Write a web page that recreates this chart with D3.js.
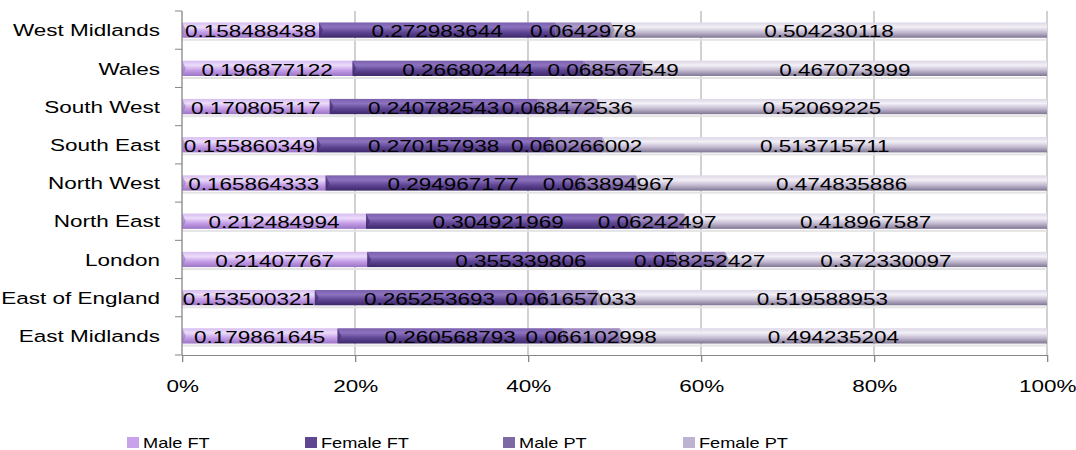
<!DOCTYPE html>
<html>
<head>
    <title>Employment split by region</title>
    <script src="https://d3js.org/d3.v7.min.js"></script>
    <style>
        body {
            margin: 0;
            background: #fff;
        }
        svg {
            display: block;
            font-family: "Liberation Sans", Arial, sans-serif;
        }
    </style>
</head>
<body>
    <svg id="chart"></svg>

    <script>
        // categories, top to bottom as drawn
        const regions = ["West Midlands", "Wales", "South West", "South East", "North West",
                         "North East", "London", "East of England", "East Midlands"];
        const seriesNames = ["Male FT", "Female FT", "Male PT", "Female PT"];

        const maleFT   = [0.158488438, 0.196877122, 0.170805117, 0.155860349, 0.165864333,
                          0.212484994, 0.21407767, 0.153500321, 0.179861645];
        const femaleFT = [0.272983644, 0.266802444, 0.240782543, 0.270157938, 0.294967177,
                          0.304921969, 0.355339806, 0.265253693, 0.260568793];
        const malePT   = [0.0642978, 0.068567549, 0.068472536, 0.060266002, 0.063894967,
                          0.06242497, 0.058252427, 0.061657033, 0.066102998];
        const femalePT = [0.504230118, 0.467073999, 0.52069225, 0.513715711, 0.474835886,
                          0.418967587, 0.372330097, 0.519588953, 0.494235204];

        const xTicks = [0, 0.2, 0.4, 0.6, 0.8, 1];

        // original picture is stretched sideways, so draw in a narrower box and stretch it
        const W = 1076, H = 450, SX = 1.30;
        const VBW = W / SX;
        const FS = 17.3;

        // gradient stops per series: top -> highlight -> base -> dark bottom
        const shades = [
            ["#d6bdf0", "#ecdcfa", "#c39be6", "#9a74c4"],
            ["#7a60ad", "#8c72bf", "#5d4492", "#3d286a"],
            ["#9985bd", "#ae9ccd", "#7f68a8", "#594680"],
            ["#dcd6e6", "#f3f0f7", "#c2b9d0", "#7f7592"]
        ];
        const swatch = ["#c8a2ea", "#5e4690", "#7d69a3", "#bdb2cf"];

        const svg = d3.select("#chart")
            .attr("width", W)
            .attr("height", H)
            .attr("viewBox", `0 0 ${VBW} ${H}`)
            .attr("preserveAspectRatio", "none");

        const margin = { top: 11, left: 182 / SX, right: VBW - 1047 / SX, bottom: H - 355 };
        const plotW = VBW - margin.left - margin.right;
        const plotH = H - margin.top - margin.bottom;

        const rows = regions.map((r, i) => {
            const vals = [maleFT[i], femaleFT[i], malePT[i], femalePT[i]];
            const total = d3.sum(vals);
            let acc = 0;
            return {
                region: r,
                segs: vals.map((v, k) => {
                    const s = { k, v, x0: acc / total, x1: (acc + v) / total };
                    acc += v;
                    return s;
                })
            };
        });

        const x = d3.scaleLinear().domain([0, 1]).range([0, plotW]);
        const y = d3.scaleBand().domain(regions).range([0, plotH]).padding(0);
        const barH = y.bandwidth() * 0.40;

        const defs = svg.append("defs");
        shades.forEach((c, k) => {
            const g = defs.append("linearGradient")
                .attr("id", "grad" + k)
                .attr("x1", 0).attr("y1", 0).attr("x2", 0).attr("y2", 1);
            [0, 0.3, 0.65, 1].forEach((o, j) => {
                g.append("stop").attr("offset", o).attr("stop-color", c[j]);
            });
        });

        const chart = svg.append("g")
            .attr("transform", `translate(${margin.left},${margin.top})`);

        // vertical gridlines
        chart.selectAll(".grid")
            .data(xTicks.slice(1))
            .enter()
            .append("line")
            .attr("x1", d => x(d)).attr("x2", d => x(d))
            .attr("y1", 0).attr("y2", plotH)
            .attr("stroke", "#a6a6a6")
            .attr("stroke-width", 0.8);

        // bars
        const rowG = chart.selectAll(".row")
            .data(rows)
            .enter()
            .append("g")
            .attr("transform", d => `translate(0,${y(d.region) + (y.bandwidth() - barH) / 2})`);

        rowG.append("rect")
            .attr("x", 0)
            .attr("y", barH + 1)
            .attr("width", x(1))
            .attr("height", 2)
            .attr("fill", "#e4e4e4");

        rowG.selectAll(".seg")
            .data(d => d.segs)
            .enter()
            .append("rect")
            .attr("x", d => x(d.x0))
            .attr("width", d => x(d.x1) - x(d.x0))
            .attr("y", 0)
            .attr("height", barH)
            .attr("fill", d => `url(#grad${d.k})`);

        // bevel at the left end of each segment
        rowG.selectAll(".bevel")
            .data(d => d.segs)
            .enter()
            .append("path")
            .attr("d", d => {
                const x0 = x(d.x0);
                return `M${x0},0 L${x0 + 3},${barH / 2} L${x0},${barH} Z`;
            })
            .attr("fill", d => shades[d.k][3])
            .attr("opacity", 0.6);

        rowG.selectAll(".lbl")
            .data(d => d.segs)
            .enter()
            .append("text")
            .attr("x", d => (x(d.x0) + x(d.x1)) / 2)
            .attr("y", barH / 2 + 1)
            .attr("dy", "0.36em")
            .attr("text-anchor", "middle")
            .attr("font-size", FS)
            .attr("fill", "#000")
            .text(d => d.v);

        // y axis
        chart.append("line")
            .attr("x1", 0).attr("x2", 0)
            .attr("y1", 0).attr("y2", plotH)
            .attr("stroke", "#868686");

        const bounds = regions.map(r => y(r)).concat([plotH]);
        chart.selectAll(".ytick")
            .data(bounds)
            .enter()
            .append("line")
            .attr("x1", -7 / SX).attr("x2", 0)
            .attr("y1", d => d).attr("y2", d => d)
            .attr("stroke", "#868686");

        chart.selectAll(".cat")
            .data(regions)
            .enter()
            .append("text")
            .attr("x", -22 / SX)
            .attr("y", d => y(d) + y.bandwidth() / 2)
            .attr("dy", "0.36em")
            .attr("text-anchor", "end")
            .attr("font-size", FS)
            .attr("fill", "#000")
            .text(d => d);

        // x axis
        const xAxis = chart.append("g")
            .attr("transform", `translate(0,${plotH})`)
            .call(d3.axisBottom(x)
                .tickValues(xTicks)
                .tickFormat(d3.format(".0%"))
                .tickSize(7)
                .tickSizeOuter(0)
                .tickPadding(18));
        xAxis.select(".domain").attr("stroke", "#868686");
        xAxis.selectAll(".tick line").attr("stroke", "#868686");
        xAxis.selectAll("text")
            .attr("font-size", FS)
            .attr("font-family", "Liberation Sans, Arial, sans-serif")
            .attr("fill", "#000");

        // legend
        const legendX = [127, 305, 503, 683];
        const legend = svg.selectAll(".legend")
            .data(seriesNames)
            .enter()
            .append("g")
            .attr("transform", (d, i) => `translate(${legendX[i] / SX},437)`);

        legend.append("rect")
            .attr("width", 12 / SX)
            .attr("height", 11)
            .attr("fill", (d, i) => swatch[i]);

        legend.append("text")
            .attr("x", 16 / SX)
            .attr("y", 11)
            .attr("font-size", 14)
            .attr("fill", "#000")
            .text(d => d);
    </script>
</body>
</html>
